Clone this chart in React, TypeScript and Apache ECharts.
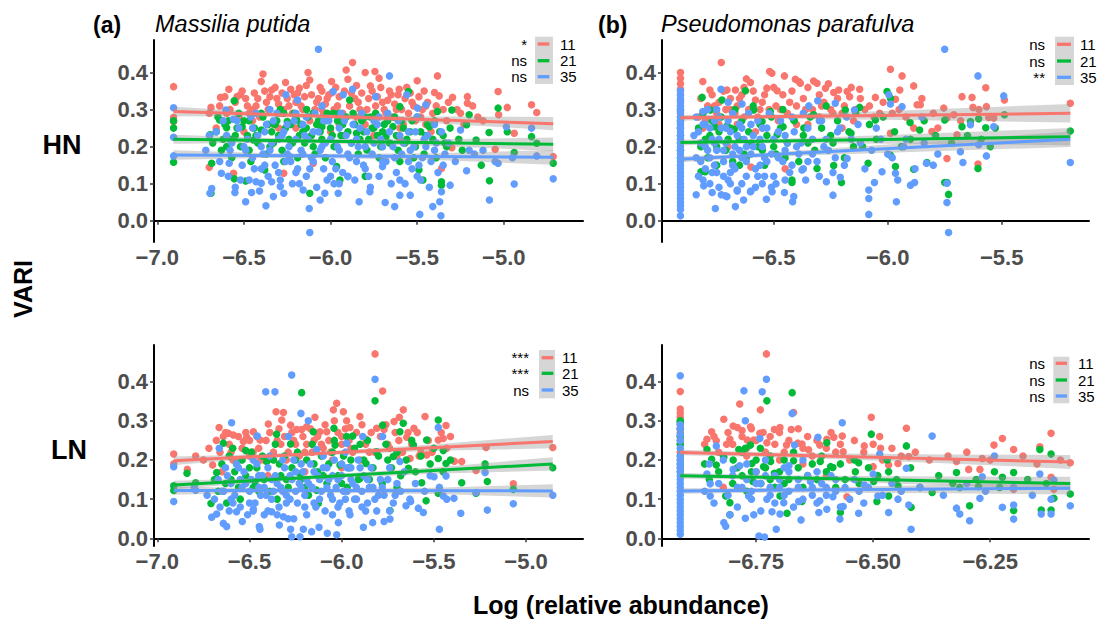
import React, { useEffect, useRef } from "react";
import * as echarts from "echarts";

// ---------- categories / labels ----------
const groups = ["11", "21", "35"];
const groupColors = ["#F8766D", "#00BA38", "#619CFF"];
const sigAHN = ["*", "ns", "ns"];
const sigBHN = ["ns", "ns", "**"];
const sigALN = ["***", "***", "ns"];
const sigBLN = ["ns", "ns", "ns"];
const ticksA = [-7.0, -6.5, -6.0, -5.5, -5.0];
const ticksBHN = [-6.5, -6.0, -5.5];
const ticksBLN = [-6.75, -6.5, -6.25];
const ticksY = [0, 0.1, 0.2, 0.3, 0.4];

// ---------- (a) Massilia putida, HN ----------
const aHN_11 = [[-6.906,0.362],[-6.906,0.279],[-6.906,0.268],[-6.69,0.306],[-6.70,0.144],[-6.635,0.333],[-6.587,0.355],[-6.54,0.335],[-6.52,0.34],[-6.56,0.128],[-6.60,0.29],[-6.48,0.31],[-6.45,0.3],[-6.42,0.33],[-6.39,0.396],[-6.40,0.376],[-6.37,0.32],[-6.34,0.353],[-6.31,0.33],[-6.29,0.29],[-6.26,0.373],[-6.24,0.31],[-6.21,0.34],[-6.18,0.358],[-6.16,0.3],[-6.13,0.40],[-6.12,0.38],[-6.10,0.155],[-6.08,0.32],[-6.06,0.36],[-6.04,0.29],[-6.02,0.33],[-5.994,0.376],[-5.99,0.346],[-5.96,0.31],[-5.94,0.27],[-5.91,0.407],[-5.873,0.427],[-5.90,0.382],[-5.86,0.33],[-5.83,0.3],[-5.80,0.40],[-5.77,0.364],[-5.744,0.403],[-5.72,0.385],[-5.70,0.32],[-5.68,0.29],[-5.65,0.34],[-5.62,0.3],[-5.604,0.355],[-5.58,0.26],[-5.56,0.36],[-5.53,0.32],[-5.50,0.378],[-5.48,0.28],[-5.45,0.31],[-5.42,0.24],[-5.40,0.346],[-5.383,0.391],[-5.373,0.337],[-5.36,0.141],[-5.33,0.27],[-5.30,0.197],[-5.296,0.333],[-5.25,0.29],[-5.21,0.335],[-5.21,0.317],[-5.15,0.28],[-5.05,0.193],[-5.033,0.349],[-5.03,0.286],[-4.98,0.306],[-4.94,0.236],[-4.84,0.313],[-4.81,0.292],[-4.715,0.173],[-6.27,0.128],[-6.5,0.24],[-6.33,0.26],[-6.2,0.25],[-6.0,0.24],[-5.75,0.23],[-5.6,0.22],[-6.62,0.27],[-6.05,0.3],[-5.85,0.28],
  [-6.64,0.31],[-6.61,0.335],[-6.58,0.30],[-6.55,0.32],[-6.53,0.28],[-6.51,0.35],[-6.49,0.33],[-6.47,0.29],[-6.44,0.345],[-6.43,0.31],[-6.41,0.28],[-6.38,0.35],[-6.36,0.30],[-6.35,0.335],[-6.32,0.36],[-6.30,0.315],[-6.28,0.345],[-6.27,0.30],[-6.25,0.33],[-6.23,0.355],[-6.22,0.29],[-6.20,0.32],[-6.19,0.345],[-6.17,0.31],[-6.15,0.335],[-6.14,0.365],[-6.11,0.34],[-6.09,0.30],[-6.07,0.33],[-6.05,0.35],[-6.03,0.315],[-6.01,0.34],[-5.98,0.30],[-5.97,0.36],[-5.95,0.335],[-5.93,0.29],[-5.92,0.35],[-5.89,0.31],[-5.88,0.345],[-5.85,0.365],[-5.84,0.32],[-5.82,0.345],[-5.79,0.30],[-5.78,0.33],[-5.76,0.35],[-5.74,0.31],[-5.73,0.335],[-5.71,0.36],[-5.69,0.30],[-5.67,0.325],[-5.66,0.35],[-5.64,0.28],[-5.63,0.315],[-5.61,0.34],[-5.59,0.30],[-5.57,0.33],[-5.55,0.29],[-5.54,0.345],[-5.52,0.31],[-5.51,0.27],[-5.49,0.335],[-5.47,0.30],[-5.46,0.35],[-5.44,0.32],[-5.41,0.29],[-5.39,0.31],[-5.35,0.30],[-5.32,0.32],[-5.27,0.30],[-5.23,0.26],[-5.18,0.31],[-5.12,0.27],[-6.7,0.29],[-6.66,0.25],[-6.45,0.27],[-6.3,0.25],[-6.12,0.27],[-5.95,0.26],[-5.8,0.26],[-5.6,0.25],[-5.45,0.26]];
const aHN_21 = [[-6.906,0.27],[-6.906,0.25],[-6.906,0.158],[-6.696,0.232],[-6.69,0.074],[-6.686,0.155],[-6.64,0.272],[-6.60,0.251],[-6.556,0.324],[-6.51,0.254],[-6.556,0.113],[-6.49,0.107],[-6.446,0.218],[-6.40,0.245],[-6.38,0.137],[-6.35,0.2],[-6.32,0.26],[-6.29,0.30],[-6.25,0.268],[-6.22,0.21],[-6.196,0.272],[-6.16,0.24],[-6.138,0.30],[-6.12,0.074],[-6.10,0.2],[-6.08,0.26],[-6.05,0.254],[-6.013,0.272],[-5.985,0.29],[-5.965,0.146],[-5.946,0.11],[-5.92,0.23],[-5.89,0.326],[-5.85,0.236],[-5.82,0.27],[-5.79,0.191],[-5.75,0.25],[-5.71,0.2],[-5.68,0.227],[-5.64,0.254],[-5.60,0.308],[-5.57,0.21],[-5.55,0.349],[-5.52,0.17],[-5.49,0.137],[-5.467,0.11],[-5.43,0.254],[-5.383,0.295],[-5.36,0.105],[-5.36,0.096],[-5.33,0.2],[-5.30,0.299],[-5.215,0.259],[-5.20,0.286],[-5.16,0.218],[-5.13,0.15],[-5.085,0.238],[-5.083,0.108],[-5.033,0.304],[-4.98,0.24],[-4.94,0.184],[-4.84,0.227],[-4.81,0.209],[-4.715,0.155],[-6.47,0.19],[-6.27,0.16],[-6.03,0.17],[-5.8,0.12],[-5.6,0.16],[-6.2,0.28],[-6.6,0.2],
  [-6.68,0.21],[-6.66,0.24],[-6.63,0.19],[-6.61,0.26],[-6.58,0.22],[-6.57,0.17],[-6.54,0.25],[-6.52,0.20],[-6.50,0.27],[-6.48,0.23],[-6.46,0.16],[-6.44,0.25],[-6.42,0.21],[-6.39,0.28],[-6.37,0.18],[-6.34,0.24],[-6.33,0.21],[-6.31,0.27],[-6.28,0.19],[-6.26,0.25],[-6.24,0.22],[-6.21,0.29],[-6.19,0.17],[-6.17,0.26],[-6.15,0.21],[-6.13,0.28],[-6.11,0.23],[-6.09,0.18],[-6.07,0.27],[-6.05,0.22],[-6.02,0.29],[-6.00,0.25],[-5.98,0.20],[-5.96,0.27],[-5.94,0.23],[-5.91,0.28],[-5.88,0.21],[-5.86,0.26],[-5.84,0.18],[-5.81,0.24],[-5.78,0.22],[-5.77,0.28],[-5.73,0.23],[-5.72,0.17],[-5.69,0.26],[-5.66,0.21],[-5.63,0.28],[-5.61,0.19],[-5.58,0.25],[-5.56,0.22],[-5.53,0.27],[-5.51,0.20],[-5.48,0.24],[-5.46,0.18],[-5.44,0.26],[-5.41,0.22],[-5.39,0.17],[-5.37,0.24],[-5.34,0.21],[-5.31,0.25],[-5.26,0.22],[-5.24,0.19],
  [-6.65,0.28],[-6.62,0.22],[-6.59,0.27],[-6.55,0.23],[-6.53,0.29],[-6.47,0.27],[-6.43,0.23],[-6.4,0.29],[-6.36,0.26],[-6.3,0.23],[-6.27,0.29],[-6.23,0.26],[-6.18,0.23],[-6.14,0.25],[-6.1,0.29],[-6.06,0.24],[-6.03,0.27],[-5.99,0.23],[-5.95,0.29],[-5.93,0.26],[-5.9,0.24],[-5.87,0.29],[-5.83,0.22],[-5.8,0.28],[-5.76,0.25],[-5.74,0.29],[-5.7,0.24],[-5.67,0.27],[-5.62,0.23],[-5.59,0.27],[-5.54,0.24],[-5.5,0.28],[-5.45,0.23],[-5.4,0.27],[-5.35,0.23]];
const aHN_35 = [[-6.906,0.305],[-6.906,0.225],[-6.906,0.175],[-6.696,0.074],[-6.686,0.087],[-6.63,0.128],[-6.585,0.155],[-6.552,0.076],[-6.604,0.299],[-6.56,0.274],[-6.49,0.051],[-6.456,0.076],[-6.43,0.105],[-6.40,0.101],[-6.373,0.04],[-6.34,0.105],[-6.33,0.065],[-6.29,0.092],[-6.27,0.074],[-6.258,0.34],[-6.235,0.173],[-6.19,0.326],[-6.158,0.083],[-6.123,0.033],[-6.12,-0.032],[-6.07,0.463],[-6.06,0.056],[-6.033,0.074],[-5.985,0.349],[-5.956,0.074],[-5.927,0.34],[-5.90,0.119],[-5.873,0.355],[-5.835,0.051],[-5.773,0.078],[-5.74,0.335],[-5.70,0.146],[-5.685,0.049],[-5.66,0.391],[-5.63,0.038],[-5.60,0.069],[-5.56,0.34],[-5.54,0.069],[-5.498,0.304],[-5.485,0.017],[-5.45,0.313],[-5.41,0.038],[-5.37,0.051],[-5.363,0.013],[-5.36,0.078],[-5.31,0.096],[-5.25,0.245],[-5.215,0.135],[-5.083,0.056],[-5.033,0.155],[-4.985,0.254],[-4.94,0.099],[-4.84,0.25],[-4.715,0.113],[-4.81,0.175],[-6.5,0.2],[-6.45,0.25],[-6.38,0.15],[-6.3,0.22],[-6.25,0.18],[-6.2,0.13],[-6.15,0.23],[-6.1,0.16],[-6.05,0.2],[-6.0,0.12],[-5.95,0.25],[-5.9,0.18],[-5.85,0.22],[-5.8,0.14],[-5.75,0.27],[-5.7,0.2],[-5.65,0.1],[-5.6,0.23],[-5.55,0.16],[-5.5,0.12],[-5.45,0.2],[-5.4,0.26],[-6.35,0.3],[-6.2,0.29],[-6.05,0.31],[-5.95,0.1],[-6.4,0.2],[-6.6,0.23],
  [-6.66,0.24],[-6.64,0.16],[-6.62,0.27],[-6.59,0.12],[-6.57,0.21],[-6.55,0.09],[-6.53,0.25],[-6.51,0.15],[-6.49,0.19],[-6.47,0.11],[-6.46,0.28],[-6.44,0.14],[-6.42,0.23],[-6.41,0.08],[-6.39,0.18],[-6.37,0.26],[-6.36,0.12],[-6.34,0.21],[-6.32,0.15],[-6.31,0.29],[-6.29,0.11],[-6.27,0.24],[-6.26,0.16],[-6.24,0.2],[-6.22,0.1],[-6.21,0.27],[-6.19,0.14],[-6.17,0.19],[-6.16,0.26],[-6.14,0.12],[-6.13,0.22],[-6.11,0.17],[-6.09,0.29],[-6.08,0.09],[-6.07,0.24],[-6.04,0.14],[-6.03,0.21],[-6.01,0.27],[-5.99,0.16],[-5.98,0.1],[-5.96,0.2],[-5.94,0.29],[-5.93,0.13],[-5.91,0.23],[-5.89,0.17],[-5.87,0.26],[-5.86,0.11],[-5.84,0.2],[-5.82,0.29],[-5.81,0.15],[-5.79,0.24],[-5.77,0.09],[-5.76,0.18],[-5.73,0.26],[-5.72,0.12],[-5.71,0.22],[-5.68,0.16],[-5.67,0.29],[-5.64,0.2],[-5.62,0.13],[-5.61,0.27],[-5.59,0.18],[-5.57,0.1],[-5.55,0.24],[-5.53,0.14],[-5.52,0.2],[-5.5,0.28],[-5.48,0.11],[-5.47,0.17],[-5.44,0.23],[-5.43,0.09],[-5.4,0.19],[-5.38,0.13],[-5.36,0.24],[-5.34,0.18],[-5.32,0.21],[-5.28,0.16],[-5.2,0.19],[-5.17,0.18],[-5.12,0.19],[-5.05,0.16],[-4.95,0.17],[-6.7,0.23],[-6.72,0.19],
  [-6.58,0.19],[-6.54,0.27],[-6.52,0.11],[-6.48,0.22],[-6.45,0.17],[-6.43,0.29],[-6.4,0.14],[-6.38,0.24],[-6.35,0.19],[-6.33,0.27],[-6.3,0.13],[-6.28,0.23],[-6.25,0.26],[-6.23,0.16],[-6.2,0.22],[-6.18,0.1],[-6.16,0.18],[-6.14,0.28],[-6.12,0.14],[-6.1,0.24],[-6.06,0.19],[-6.04,0.27],[-6.02,0.11],[-6.0,0.22],[-5.97,0.14],[-5.95,0.19],[-5.92,0.27],[-5.9,0.12],[-5.88,0.21],[-5.85,0.16],[-5.83,0.25],[-5.8,0.2],[-5.78,0.12],[-5.75,0.21],[-5.72,0.28],[-5.7,0.16],[-5.66,0.24],[-5.63,0.17],[-5.6,0.11],[-5.58,0.21],[-5.54,0.19],[-5.51,0.24],[-5.49,0.15],[-5.46,0.22],[-5.42,0.16],[-5.39,0.21],[-5.35,0.15]];

// ---------- (b) Pseudomonas parafulva, HN ----------
const bHN_colX = -6.909;
const bHN_11_col = [0.40,0.385,0.37,0.355,0.34,0.325,0.31,0.295,0.28,0.265,0.25];
const bHN_21_col = [0.30,0.27,0.25,0.23,0.21,0.19,0.17];
const bHN_35_col = [0.35,0.34,0.33,0.32,0.31,0.30,0.29,0.28,0.27,0.26,0.25,0.24,0.23,0.22,0.21,0.20,0.19,0.18,0.17,0.16,0.15,0.14,0.13,0.12,0.11,0.10,0.09,0.08,0.07,0.06,0.05,0.04,0.03,0.013];
const bHN_11 = [[-6.811,0.376],[-6.78,0.353],[-6.80,0.27],[-6.76,0.31],[-6.73,0.427],[-6.705,0.353],[-6.69,0.3],[-6.668,0.353],[-6.65,0.33],[-6.63,0.28],[-6.62,0.383],[-6.602,0.373],[-6.58,0.326],[-6.56,0.3],[-6.53,0.358],[-6.518,0.403],[-6.508,0.398],[-6.485,0.351],[-6.47,0.3],[-6.453,0.391],[-6.43,0.32],[-6.405,0.382],[-6.39,0.376],[-6.383,0.371],[-6.36,0.3],[-6.325,0.377],[-6.31,0.371],[-6.29,0.31],[-6.273,0.358],[-6.25,0.3],[-6.237,0.346],[-6.215,0.353],[-6.2,0.29],[-6.178,0.349],[-6.167,0.335],[-6.123,0.355],[-6.1,0.3],[-6.054,0.333],[-6.035,0.29],[-5.988,0.409],[-5.966,0.328],[-5.947,0.353],[-5.937,0.391],[-5.886,0.364],[-5.871,0.313],[-5.857,0.313],[-5.886,0.25],[-5.806,0.241],[-5.754,0.304],[-5.74,0.277],[-5.71,0.286],[-5.674,0.335],[-5.63,0.333],[-5.626,0.306],[-5.57,0.359],[-5.567,0.308],[-5.557,0.279],[-5.535,0.277],[-5.488,0.326],[-5.604,0.153],[-5.74,0.168],[-5.199,0.317],[-5.696,0.232],[-5.988,0.236],[-6.6,0.145],[-6.45,0.14],[-6.7,0.2],[-6.55,0.25],[-6.35,0.26],[-6.15,0.27],
  [-6.82,0.33],[-6.79,0.31],[-6.77,0.34],[-6.75,0.29],[-6.74,0.32],[-6.72,0.35],[-6.71,0.30],[-6.69,0.33],[-6.67,0.29],[-6.66,0.31],[-6.64,0.34],[-6.63,0.36],[-6.61,0.30],[-6.59,0.35],[-6.57,0.28],[-6.55,0.32],[-6.54,0.34],[-6.52,0.30],[-6.50,0.36],[-6.49,0.31],[-6.46,0.34],[-6.44,0.29],[-6.42,0.35],[-6.40,0.31],[-6.37,0.33],[-6.35,0.36],[-6.33,0.30],[-6.30,0.34],[-6.28,0.32],[-6.26,0.37],[-6.24,0.29],[-6.22,0.33],[-6.19,0.31],[-6.16,0.36],[-6.14,0.30],[-6.12,0.33],[-6.08,0.31],[-6.06,0.28],[-6.02,0.32],[-5.98,0.29],[-5.95,0.30],[-5.92,0.28],[-5.85,0.33],[-5.8,0.29],[-5.78,0.25],[-5.68,0.27],[-5.6,0.3],[-6.83,0.28],[-6.81,0.25],[-6.74,0.26],[-6.66,0.26],[-6.58,0.24],[-6.48,0.27],[-6.4,0.26],[-6.3,0.28],[-6.2,0.25]];
const bHN_21 = [[-6.814,0.333],[-6.819,0.132],[-6.80,0.132],[-6.778,0.299],[-6.76,0.254],[-6.727,0.326],[-6.705,0.256],[-6.673,0.247],[-6.624,0.351],[-6.63,0.18],[-6.588,0.299],[-6.551,0.268],[-6.515,0.295],[-6.485,0.232],[-6.459,0.254],[-6.412,0.272],[-6.42,0.11],[-6.42,0.103],[-6.368,0.25],[-6.325,0.286],[-6.31,0.141],[-6.237,0.149],[-6.203,0.103],[-6.186,0.299],[-6.161,0.236],[-6.123,0.306],[-6.086,0.155],[-6.054,0.272],[-6.003,0.349],[-5.988,0.331],[-5.988,0.177],[-5.966,0.146],[-5.902,0.265],[-5.886,0.139],[-5.86,0.245],[-5.828,0.157],[-5.75,0.272],[-5.75,0.103],[-5.74,0.103],[-5.733,0.071],[-5.674,0.254],[-5.637,0.268],[-5.601,0.275],[-5.604,0.141],[-5.57,0.251],[-5.528,0.25],[-5.488,0.286],[-5.199,0.242],[-6.75,0.2],[-6.7,0.22],[-6.6,0.21],[-6.55,0.19],[-6.5,0.2],[-6.45,0.17],[-6.35,0.21],[-6.25,0.23],[-6.15,0.2],[-6.65,0.15],[-6.8,0.22],
  [-6.83,0.25],[-6.82,0.2],[-6.81,0.29],[-6.79,0.17],[-6.78,0.23],[-6.77,0.27],[-6.75,0.15],[-6.74,0.24],[-6.73,0.28],[-6.71,0.19],[-6.69,0.25],[-6.68,0.16],[-6.67,0.3],[-6.65,0.22],[-6.64,0.27],[-6.62,0.17],[-6.61,0.24],[-6.59,0.31],[-6.57,0.2],[-6.56,0.26],[-6.54,0.15],[-6.53,0.23],[-6.51,0.28],[-6.49,0.18],[-6.47,0.25],[-6.46,0.3],[-6.44,0.21],[-6.41,0.27],[-6.39,0.16],[-6.37,0.23],[-6.34,0.28],[-6.32,0.19],[-6.29,0.25],[-6.27,0.31],[-6.24,0.21],[-6.22,0.27],[-6.19,0.17],[-6.17,0.24],[-6.14,0.29],[-6.11,0.2],[-6.08,0.26],[-6.05,0.22],[-6.02,0.28],[-5.97,0.24],[-5.94,0.2],[-5.9,0.22],[-5.84,0.27],[-5.79,0.23],[-5.72,0.21],[-5.65,0.23],[-5.59,0.22],[-5.55,0.2]];
const bHN_35 = [[-6.811,0.295],[-6.807,0.094],[-6.77,0.076],[-6.756,0.033],[-6.731,0.355],[-6.712,0.067],[-6.705,0.065],[-6.668,0.038],[-6.66,0.083],[-6.639,0.315],[-6.632,0.056],[-6.602,0.078],[-6.532,0.058],[-6.507,0.078],[-6.453,0.076],[-6.417,0.051],[-6.412,0.065],[-6.376,0.137],[-6.346,0.31],[-6.307,0.324],[-6.269,0.105],[-6.24,0.069],[-6.23,0.317],[-6.208,0.117],[-6.178,0.168],[-6.146,0.299],[-6.083,0.083],[-6.083,0.06],[-6.083,0.017],[-6.058,0.103],[-6.025,0.132],[-5.995,0.34],[-5.988,0.315],[-5.966,0.128],[-5.962,0.051],[-5.937,0.308],[-5.956,0.11],[-5.9,0.096],[-5.882,0.103],[-5.83,0.155],[-5.8,0.15],[-5.75,0.463],[-5.74,0.049],[-5.733,-0.032],[-5.74,0.101],[-5.681,0.186],[-5.67,0.157],[-5.637,0.259],[-5.604,0.391],[-5.601,0.205],[-5.567,0.175],[-5.535,0.254],[-5.491,0.337],[-5.199,0.157],[-6.8,0.2],[-6.78,0.25],[-6.76,0.15],[-6.74,0.22],[-6.72,0.12],[-6.7,0.27],[-6.68,0.18],[-6.66,0.23],[-6.64,0.1],[-6.62,0.2],[-6.6,0.26],[-6.58,0.14],[-6.56,0.22],[-6.54,0.17],[-6.52,0.29],[-6.5,0.12],[-6.48,0.24],[-6.45,0.19],[-6.42,0.28],[-6.38,0.21],[-6.35,0.16],[-6.3,0.27],[-6.28,0.2],[-6.22,0.24],[-6.18,0.28],[-6.12,0.21],[-6.05,0.25],[-6.0,0.18],[-5.92,0.22],[-5.85,0.28],[-6.75,0.3],[-6.69,0.13],[-6.55,0.1],[-6.45,0.11],[-6.35,0.25],
  [-6.85,0.23],[-6.84,0.17],[-6.84,0.28],[-6.83,0.12],[-6.82,0.21],[-6.81,0.26],[-6.8,0.14],[-6.79,0.19],[-6.79,0.3],[-6.78,0.1],[-6.77,0.22],[-6.76,0.27],[-6.75,0.13],[-6.75,0.19],[-6.74,0.09],[-6.73,0.25],[-6.72,0.16],[-6.71,0.21],[-6.7,0.11],[-6.7,0.32],[-6.69,0.24],[-6.68,0.15],[-6.67,0.2],[-6.66,0.08],[-6.65,0.26],[-6.64,0.17],[-6.63,0.22],[-6.62,0.12],[-6.61,0.29],[-6.6,0.18],[-6.59,0.23],[-6.58,0.09],[-6.57,0.27],[-6.56,0.15],[-6.55,0.2],[-6.54,0.12],[-6.53,0.25],[-6.51,0.18],[-6.5,0.22],[-6.49,0.1],[-6.47,0.27],[-6.46,0.16],[-6.44,0.21],[-6.43,0.13],[-6.41,0.24],[-6.39,0.18],[-6.37,0.29],[-6.36,0.11],[-6.33,0.22],[-6.31,0.16],[-6.29,0.27],[-6.26,0.19],[-6.24,0.13],[-6.21,0.25],[-6.19,0.15],[-6.16,0.22],[-6.13,0.26],[-6.1,0.14],[-6.07,0.19],[-6.03,0.22],[-5.98,0.17],[-5.93,0.2],[-5.88,0.14],[-5.84,0.21],[-5.78,0.18],
  [-6.84,0.07],[-6.83,0.24],[-6.82,0.16],[-6.81,0.11],[-6.8,0.26],[-6.78,0.17],[-6.77,0.13],[-6.76,0.21],[-6.74,0.28],[-6.73,0.07],[-6.72,0.19],[-6.71,0.25],[-6.69,0.1],[-6.68,0.29],[-6.67,0.14],[-6.65,0.19],[-6.64,0.25],[-6.62,0.16],[-6.6,0.08],[-6.59,0.2],[-6.57,0.12],[-6.55,0.25],[-6.53,0.16],[-6.51,0.09],[-6.48,0.17],[-6.45,0.23],[-6.42,0.15],[-6.4,0.2],[-6.37,0.14],[-6.33,0.18],[-6.3,0.12],[-6.27,0.22],[-6.23,0.17]];

// ---------- (a) Massilia putida, LN ----------
const aLN_11 = [[-6.911,0.215],[-6.911,0.19],[-6.837,0.176],[-6.792,0.21],[-6.70,0.187],[-6.665,0.283],[-6.642,0.26],[-6.615,0.268],[-6.588,0.264],[-6.57,0.2],[-6.533,0.247],[-6.515,0.258],[-6.479,0.272],[-6.443,0.251],[-6.42,0.2],[-6.398,0.292],[-6.356,0.323],[-6.316,0.321],[-6.325,0.302],[-6.277,0.289],[-6.244,0.278],[-6.217,0.278],[-6.19,0.285],[-6.145,0.309],[-6.118,0.272],[-6.081,0.272],[-6.045,0.328],[-6.027,0.345],[-5.991,0.323],[-5.973,0.30],[-5.955,0.283],[-5.901,0.311],[-5.868,0.253],[-5.819,0.471],[-5.81,0.281],[-5.778,0.376],[-5.77,0.278],[-5.716,0.298],[-5.687,0.309],[-5.666,0.328],[-5.647,0.258],[-5.608,0.281],[-5.548,0.311],[-5.539,0.213],[-5.476,0.251],[-5.449,0.255],[-5.434,0.288],[-5.389,0.197],[-5.349,0.196],[-5.271,0.173],[-5.217,0.232],[-5.069,0.139],[-5.629,0.204],[-5.58,0.21],[-4.855,0.232],[-6.6,0.22],[-6.5,0.21],[-6.45,0.23],[-6.35,0.25],[-6.3,0.2],[-6.25,0.24],[-6.2,0.22],[-6.15,0.25],[-6.1,0.23],[-6.05,0.2],[-6.0,0.26],[-5.95,0.23],[-5.9,0.2],[-5.85,0.22],[-5.75,0.24],[-5.7,0.21],[-6.65,0.17],[-6.4,0.16],[-6.2,0.17],[-6.0,0.18],
  [-6.68,0.25],[-6.66,0.22],[-6.63,0.27],[-6.61,0.24],[-6.59,0.2],[-6.56,0.26],[-6.54,0.23],[-6.52,0.27],[-6.5,0.25],[-6.48,0.22],[-6.46,0.26],[-6.44,0.2],[-6.41,0.25],[-6.39,0.27],[-6.37,0.22],[-6.34,0.28],[-6.33,0.24],[-6.31,0.26],[-6.29,0.22],[-6.27,0.27],[-6.26,0.25],[-6.23,0.21],[-6.21,0.26],[-6.19,0.24],[-6.17,0.28],[-6.16,0.22],[-6.13,0.26],[-6.11,0.24],[-6.09,0.29],[-6.07,0.25],[-6.06,0.22],[-6.04,0.3],[-6.02,0.27],[-6.0,0.24],[-5.98,0.28],[-5.96,0.25],[-5.94,0.22],[-5.92,0.27],[-5.89,0.29],[-5.87,0.24],[-5.84,0.27],[-5.82,0.22],[-5.79,0.26],[-5.76,0.29],[-5.74,0.23],[-5.71,0.27],[-5.69,0.25],[-5.67,0.22],[-5.64,0.27],[-5.62,0.24],[-5.59,0.27],[-5.57,0.22],[-5.53,0.25],[-5.51,0.22],[-5.46,0.27],[-5.43,0.23],[-5.41,0.26],[-6.75,0.2],[-6.72,0.23]];
const aLN_21 = [[-6.911,0.134],[-6.911,0.122],[-6.839,0.166],[-6.792,0.142],[-6.709,0.089],[-6.678,0.168],[-6.642,0.243],[-6.624,0.09],[-6.591,0.23],[-6.57,0.19],[-6.521,0.224],[-6.47,0.145],[-6.407,0.196],[-6.353,0.266],[-6.338,0.19],[-6.277,0.241],[-6.217,0.372],[-6.226,0.165],[-6.154,0.272],[-6.136,0.123],[-6.127,0.089],[-6.042,0.281],[-6.036,0.238],[-6.009,0.187],[-5.973,0.26],[-5.94,0.261],[-5.901,0.153],[-5.868,0.191],[-5.819,0.351],[-5.81,0.221],[-5.778,0.289],[-5.738,0.071],[-5.72,0.209],[-5.684,0.272],[-5.666,0.294],[-5.638,0.179],[-5.611,0.238],[-5.566,0.142],[-5.542,0.096],[-5.539,0.251],[-5.476,0.302],[-5.476,0.204],[-5.449,0.224],[-5.434,0.191],[-5.349,0.142],[-5.271,0.115],[-5.222,0.19],[-5.21,0.145],[-5.069,0.125],[-5.476,0.115],[-4.855,0.180],[-6.6,0.15],[-6.5,0.18],[-6.45,0.12],[-6.4,0.2],[-6.3,0.15],[-6.25,0.2],[-6.2,0.13],[-6.15,0.19],[-6.1,0.16],[-6.05,0.22],[-6.0,0.14],[-5.95,0.2],[-5.9,0.24],[-5.85,0.15],[-5.75,0.2],[-5.7,0.13],[-6.55,0.1],[-6.35,0.1],
  [-6.69,0.15],[-6.67,0.12],[-6.65,0.19],[-6.63,0.14],[-6.61,0.21],[-6.58,0.17],[-6.56,0.13],[-6.54,0.2],[-6.52,0.16],[-6.49,0.22],[-6.48,0.13],[-6.46,0.18],[-6.43,0.21],[-6.42,0.15],[-6.39,0.12],[-6.37,0.2],[-6.36,0.24],[-6.33,0.16],[-6.31,0.21],[-6.29,0.13],[-6.27,0.18],[-6.24,0.22],[-6.22,0.15],[-6.19,0.2],[-6.18,0.11],[-6.16,0.24],[-6.13,0.17],[-6.11,0.21],[-6.08,0.14],[-6.07,0.19],[-6.04,0.25],[-6.02,0.16],[-5.99,0.21],[-5.97,0.13],[-5.96,0.18],[-5.93,0.23],[-5.91,0.15],[-5.88,0.2],[-5.86,0.25],[-5.83,0.18],[-5.8,0.21],[-5.78,0.14],[-5.76,0.24],[-5.73,0.18],[-5.7,0.22],[-5.68,0.16],[-5.65,0.2],[-5.62,0.25],[-5.6,0.17],[-5.57,0.21],[-5.52,0.19],[-5.5,0.23],[-5.45,0.17],[-5.41,0.2]];
const aLN_35 = [[-6.911,0.183],[-6.911,0.094],[-6.792,0.123],[-6.705,0.054],[-6.678,0.062],[-6.664,0.23],[-6.642,0.038],[-6.624,0.03],[-6.597,0.295],[-6.57,0.068],[-6.539,0.043],[-6.479,0.074],[-6.458,0.261],[-6.447,0.03],[-6.443,0.023],[-6.412,0.374],[-6.362,0.374],[-6.38,0.068],[-6.338,0.034],[-6.316,0.055],[-6.271,0.417],[-6.277,0.023],[-6.271,0.004],[-6.289,0.26],[-6.226,0.004],[-6.221,0.319],[-6.208,0.023],[-6.181,0.30],[-6.163,0.017],[-6.136,0.227],[-6.123,0.028],[-6.078,0.013],[-6.027,0.009],[-6.018,0.04],[-5.973,0.243],[-5.955,0.06],[-5.886,0.26],[-5.882,0.028],[-5.819,0.406],[-5.832,0.04],[-5.778,0.26],[-5.77,0.043],[-5.738,0.049],[-5.684,0.196],[-5.651,0.083],[-5.626,0.094],[-5.584,0.077],[-5.557,0.066],[-5.499,0.157],[-5.476,0.283],[-5.47,0.023],[-5.449,0.108],[-5.434,0.159],[-5.391,0.102],[-5.354,0.064],[-5.222,0.168],[-5.21,0.072],[-5.069,0.088],[-5.271,0.117],[-4.855,0.11],[-6.65,0.12],[-6.6,0.1],[-6.55,0.15],[-6.5,0.09],[-6.45,0.13],[-6.4,0.18],[-6.38,0.1],[-6.35,0.14],[-6.32,0.2],[-6.3,0.09],[-6.28,0.16],[-6.25,0.12],[-6.22,0.19],[-6.2,0.08],[-6.18,0.14],[-6.15,0.17],[-6.12,0.1],[-6.1,0.21],[-6.08,0.13],[-6.05,0.16],[-6.02,0.08],[-6.0,0.19],[-5.97,0.12],[-5.95,0.15],[-5.92,0.1],[-5.9,0.18],[-5.87,0.07],[-5.85,0.13],[-5.8,0.11],[-5.75,0.15],[-6.48,0.2],[-6.26,0.05],[-6.05,0.06],[-5.98,0.22],[-6.42,0.06],
  [-6.69,0.1],[-6.67,0.15],[-6.66,0.08],[-6.64,0.12],[-6.63,0.18],[-6.61,0.07],[-6.6,0.14],[-6.58,0.11],[-6.57,0.19],[-6.55,0.08],[-6.54,0.13],[-6.53,0.17],[-6.51,0.06],[-6.5,0.12],[-6.49,0.15],[-6.47,0.09],[-6.46,0.19],[-6.44,0.11],[-6.43,0.16],[-6.42,0.13],[-6.4,0.07],[-6.39,0.21],[-6.37,0.12],[-6.36,0.16],[-6.34,0.08],[-6.33,0.13],[-6.31,0.18],[-6.3,0.11],[-6.29,0.05],[-6.27,0.15],[-6.26,0.2],[-6.24,0.09],[-6.23,0.14],[-6.21,0.17],[-6.2,0.11],[-6.19,0.06],[-6.17,0.19],[-6.16,0.13],[-6.14,0.08],[-6.13,0.16],[-6.11,0.12],[-6.1,0.18],[-6.09,0.07],[-6.07,0.15],[-6.06,0.11],[-6.04,0.2],[-6.03,0.13],[-6.01,0.09],[-6.0,0.16],[-5.99,0.12],[-5.97,0.18],[-5.96,0.07],[-5.94,0.14],[-5.93,0.1],[-5.91,0.2],[-5.89,0.12],[-5.88,0.16],[-5.86,0.09],[-5.84,0.18],[-5.83,0.13],[-5.81,0.07],[-5.79,0.15],[-5.77,0.11],[-5.74,0.18],[-5.72,0.09],[-5.7,0.14],[-5.68,0.12],[-5.66,0.17],[-5.63,0.1],[-5.6,0.14],[-5.55,0.12],[-5.52,0.16],[-5.47,0.13],[-5.43,0.1],[-6.73,0.11],[-6.8,0.13],
  [-6.62,0.16],[-6.59,0.09],[-6.56,0.18],[-6.52,0.14],[-6.48,0.07],[-6.45,0.16],[-6.41,0.11],[-6.38,0.15],[-6.35,0.06],[-6.32,0.12],[-6.28,0.1],[-6.25,0.17],[-6.22,0.13],[-6.19,0.15],[-6.15,0.09],[-6.12,0.15],[-6.08,0.18],[-6.05,0.1],[-6.02,0.15],[-5.98,0.1],[-5.95,0.18],[-5.92,0.13],[-5.89,0.08],[-5.86,0.15],[-5.82,0.1],[-5.78,0.13],[-5.74,0.07],[-5.71,0.11]];

// ---------- (b) Pseudomonas parafulva, LN ----------
const bLN_colX = -6.912;
const bLN_11_col = [0.375,0.33,0.32,0.31,0.30,0.29,0.28,0.27,0.26,0.25,0.24,0.22,0.20,0.18];
const bLN_21_col = [0.30,0.295,0.28,0.26,0.24,0.21,0.19,0.17];
const bLN_35_col = [0.415,0.29,0.28,0.265,0.25,0.23,0.21,0.20,0.19,0.18,0.17,0.16,0.15,0.14,0.13,0.12,0.11,0.10,0.09,0.08,0.07,0.06,0.05,0.04,0.03,0.02,0.01];
const bLN_11 = [[-6.855,0.253],[-6.845,0.272],[-6.835,0.249],[-6.819,0.304],[-6.813,0.24],[-6.806,0.253],[-6.799,0.287],[-6.79,0.283],[-6.785,0.343],[-6.78,0.275],[-6.769,0.251],[-6.762,0.285],[-6.755,0.251],[-6.741,0.328],[-6.742,0.268],[-6.735,0.27],[-6.728,0.471],[-6.727,0.244],[-6.711,0.278],[-6.699,0.283],[-6.685,0.238],[-6.675,0.278],[-6.67,0.321],[-6.661,0.243],[-6.652,0.241],[-6.638,0.226],[-6.614,0.238],[-6.599,0.253],[-6.584,0.258],[-6.566,0.261],[-6.564,0.221],[-6.556,0.106],[-6.519,0.236],[-6.504,0.309],[-6.5,0.183],[-6.486,0.26],[-6.484,0.23],[-6.467,0.187],[-6.447,0.191],[-6.429,0.281],[-6.424,0.209],[-6.322,0.196],[-6.296,0.176],[-6.272,0.176],[-6.267,0.204],[-6.242,0.238],[-6.224,0.255],[-6.2,0.227],[-6.2,0.125],[-6.144,0.234],[-6.12,0.268],[-6.12,0.156],[-6.114,0.125],[-6.079,0.193],[-6.82,0.13],[-6.7,0.2],[-6.77,0.21],[-6.65,0.19],[-6.6,0.16],[-6.75,0.17],
  [-6.86,0.24],[-6.84,0.26],[-6.83,0.22],[-6.81,0.27],[-6.8,0.24],[-6.78,0.26],[-6.77,0.23],[-6.76,0.28],[-6.75,0.25],[-6.73,0.22],[-6.72,0.26],[-6.71,0.24],[-6.7,0.27],[-6.69,0.22],[-6.68,0.25],[-6.66,0.28],[-6.65,0.23],[-6.64,0.26],[-6.63,0.21],[-6.62,0.25],[-6.6,0.23],[-6.59,0.27],[-6.58,0.22],[-6.57,0.24],[-6.55,0.2],[-6.54,0.25],[-6.52,0.22],[-6.5,0.24],[-6.48,0.2],[-6.46,0.23],[-6.44,0.21],[-6.41,0.22],[-6.38,0.2],[-6.34,0.21],[-6.3,0.22],[-6.25,0.2],[-6.18,0.21],[-6.15,0.19],[-6.1,0.2]];
const bLN_21 = [[-6.855,0.227],[-6.845,0.202],[-6.835,0.187],[-6.819,0.207],[-6.815,0.108],[-6.806,0.091],[-6.806,0.06],[-6.799,0.20],[-6.787,0.227],[-6.773,0.23],[-6.762,0.238],[-6.759,0.191],[-6.757,0.145],[-6.741,0.23],[-6.734,0.183],[-6.727,0.351],[-6.719,0.196],[-6.711,0.166],[-6.699,0.108],[-6.684,0.064],[-6.673,0.372],[-6.67,0.198],[-6.652,0.094],[-6.613,0.196],[-6.599,0.244],[-6.591,0.183],[-6.586,0.181],[-6.57,0.066],[-6.538,0.17],[-6.531,0.193],[-6.504,0.266],[-6.499,0.145],[-6.492,0.094],[-6.467,0.108],[-6.467,0.17],[-6.447,0.134],[-6.429,0.236],[-6.419,0.079],[-6.374,0.117],[-6.322,0.168],[-6.315,0.13],[-6.294,0.083],[-6.275,0.132],[-6.241,0.17],[-6.224,0.156],[-6.2,0.168],[-6.2,0.071],[-6.144,0.227],[-6.141,0.072],[-6.12,0.215],[-6.12,0.072],[-6.114,0.102],[-6.079,0.113],[-6.78,0.16],[-6.72,0.15],[-6.69,0.14],[-6.64,0.16],
  [-6.86,0.19],[-6.85,0.15],[-6.83,0.17],[-6.82,0.21],[-6.8,0.14],[-6.79,0.18],[-6.78,0.22],[-6.77,0.12],[-6.76,0.17],[-6.75,0.2],[-6.74,0.14],[-6.73,0.18],[-6.72,0.21],[-6.71,0.13],[-6.7,0.17],[-6.69,0.2],[-6.68,0.15],[-6.67,0.22],[-6.66,0.18],[-6.65,0.13],[-6.63,0.19],[-6.62,0.15],[-6.61,0.21],[-6.6,0.17],[-6.58,0.13],[-6.57,0.19],[-6.56,0.15],[-6.54,0.2],[-6.53,0.14],[-6.51,0.18],[-6.49,0.16],[-6.47,0.2],[-6.45,0.15],[-6.42,0.18],[-6.4,0.13],[-6.36,0.16],[-6.33,0.14],[-6.28,0.15],[-6.23,0.13],[-6.17,0.15],[-6.13,0.14]];
const bLN_35 = [[-6.855,0.164],[-6.848,0.139],[-6.848,0.108],[-6.835,0.236],[-6.819,0.04],[-6.815,0.031],[-6.806,0.06],[-6.799,0.176],[-6.785,0.185],[-6.776,0.377],[-6.773,0.30],[-6.773,0.051],[-6.766,0.108],[-6.755,0.06],[-6.744,0.006],[-6.742,0.255],[-6.737,0.374],[-6.732,0.003],[-6.728,0.406],[-6.727,0.10],[-6.716,0.068],[-6.707,0.023],[-6.699,0.062],[-6.691,0.091],[-6.68,0.185],[-6.673,0.319],[-6.668,0.238],[-6.659,0.094],[-6.654,0.047],[-6.634,0.145],[-6.618,0.258],[-6.616,0.066],[-6.614,0.096],[-6.599,0.074],[-6.586,0.106],[-6.571,0.049],[-6.566,0.295],[-6.564,0.081],[-6.531,0.064],[-6.519,0.136],[-6.5,0.164],[-6.49,0.108],[-6.486,0.215],[-6.467,0.066],[-6.447,0.10],[-6.429,0.179],[-6.424,0.085],[-6.419,0.023],[-6.374,0.261],[-6.322,0.077],[-6.315,0.062],[-6.294,0.045],[-6.272,0.102],[-6.267,0.157],[-6.241,0.21],[-6.224,0.079],[-6.2,0.085],[-6.2,0.049],[-6.144,0.164],[-6.141,0.062],[-6.12,0.062],[-6.12,0.10],[-6.114,0.149],[-6.079,0.083],[-6.79,0.13],[-6.77,0.15],[-6.76,0.12],[-6.75,0.17],[-6.74,0.14],[-6.73,0.2],[-6.72,0.11],[-6.71,0.16],[-6.7,0.13],[-6.69,0.18],[-6.68,0.12],[-6.66,0.15],[-6.65,0.2],[-6.63,0.11],[-6.62,0.17],[-6.6,0.13],[-6.58,0.15],
  [-6.86,0.12],[-6.85,0.19],[-6.84,0.09],[-6.83,0.14],[-6.82,0.2],[-6.81,0.11],[-6.8,0.16],[-6.79,0.08],[-6.78,0.13],[-6.77,0.19],[-6.76,0.1],[-6.75,0.14],[-6.74,0.07],[-6.73,0.16],[-6.72,0.13],[-6.71,0.09],[-6.7,0.15],[-6.69,0.11],[-6.68,0.17],[-6.67,0.08],[-6.66,0.13],[-6.65,0.1],[-6.64,0.16],[-6.63,0.13],[-6.62,0.09],[-6.61,0.14],[-6.6,0.11],[-6.59,0.16],[-6.58,0.12],[-6.57,0.08],[-6.56,0.13],[-6.55,0.1],[-6.54,0.15],[-6.53,0.12],[-6.52,0.09],[-6.51,0.13],[-6.48,0.11],[-6.46,0.14],[-6.44,0.12],[-6.4,0.13],[-6.35,0.11],[-6.3,0.14],[-6.26,0.12],[-6.2,0.13],[-6.16,0.11]];

// ---------- linear fits (end points) and CI half-widths ----------
const aHN_fitX = [-6.906, -4.715];
const aHN_fits = [[0.295, 0.262], [0.220, 0.2065], [0.1775, 0.171]];
const aHN_bandX = [-6.906, -6.4, -6.0, -5.4, -4.715];
const aHN_half = [[0.013, 0.007, 0.006, 0.009, 0.018], [0.012, 0.007, 0.006, 0.009, 0.018], [0.013, 0.007, 0.006, 0.009, 0.02]];

const bHN_fitX = [-6.909, -5.199];
const bHN_fits = [[0.278, 0.290], [0.211, 0.227], [0.166, 0.220]];
const bHN_bandX = [-6.909, -6.7, -6.5, -6.0, -5.199];
const bHN_half = [[0.008, 0.006, 0.006, 0.012, 0.025], [0.008, 0.006, 0.006, 0.012, 0.023], [0.008, 0.006, 0.006, 0.011, 0.021]];

const aLN_fitX = [-6.911, -4.855];
const aLN_fits = [[0.198, 0.247], [0.136, 0.190], [0.122, 0.121]];
const aLN_bandX = [-6.911, -6.5, -6.1, -5.5, -4.855];
const aLN_half = [[0.011, 0.006, 0.005, 0.008, 0.017], [0.011, 0.006, 0.005, 0.008, 0.017], [0.011, 0.006, 0.005, 0.008, 0.017]];

const bLN_fitX = [-6.912, -6.079];
const bLN_fits = [[0.219, 0.195], [0.160, 0.140], [0.121, 0.128]];
const bLN_bandX = [-6.912, -6.75, -6.6, -6.35, -6.079];
const bLN_half = [[0.007, 0.006, 0.007, 0.011, 0.018], [0.007, 0.006, 0.007, 0.011, 0.017], [0.007, 0.006, 0.007, 0.011, 0.016]];

const FONT = '"Liberation Sans", Arial, Helvetica, sans-serif';

function withColumn(colX: number, col: number[], pts: number[][]) {
  return col.map((y) => [colX, y]).concat(pts);
}

const panels = [
  { grid: { left: 154, top: 40, width: 429, height: 202 }, xMin: -7.019, xMax: -4.543, yMin: -0.0576, yMax: 0.488, xTicks: ticksA, dec: 1,
    points: [aHN_11, aHN_21, aHN_35], fitX: aHN_fitX, fits: aHN_fits, bandX: aHN_bandX, half: aHN_half },
  { grid: { left: 662, top: 40, width: 427, height: 202 }, xMin: -6.99, xMax: -5.117, yMin: -0.0576, yMax: 0.488, xTicks: ticksBHN, dec: 1,
    points: [withColumn(bHN_colX, bHN_11_col, bHN_11), withColumn(bHN_colX, bHN_21_col, bHN_21), withColumn(bHN_colX, bHN_35_col, bHN_35)],
    fitX: bHN_fitX, fits: bHN_fits, bandX: bHN_bandX, half: bHN_half },
  { grid: { left: 154, top: 345, width: 429, height: 201 }, xMin: -7.018, xMax: -4.691, yMin: -0.0197, yMax: 0.4937, xTicks: ticksA, dec: 1,
    points: [aLN_11, aLN_21, aLN_35], fitX: aLN_fitX, fits: aLN_fits, bandX: aLN_bandX, half: aLN_half },
  { grid: { left: 662, top: 345, width: 427, height: 201 }, xMin: -6.951, xMax: -6.039, yMin: -0.0197, yMax: 0.4937, xTicks: ticksBLN, dec: 2,
    points: [withColumn(bLN_colX, bLN_11_col, bLN_11), withColumn(bLN_colX, bLN_21_col, bLN_21), withColumn(bLN_colX, bLN_35_col, bLN_35)],
    fitX: bLN_fitX, fits: bLN_fits, bandX: bLN_bandX, half: bLN_half },
];

const legends = [
  { box: [535, 36.7, 18, 47.3], lx: [537.7, 549.3], ly: [44, 60.7, 76.7], labelX: 560, sigX: 527, sig: sigAHN },
  { box: [1055, 36.7, 19, 48.3], lx: [1057, 1071], ly: [44.3, 61, 77.3], labelX: 1080, sigX: 1045, sig: sigBHN },
  { box: [539, 350, 16, 48.3], lx: [541.7, 553.3], ly: [357.7, 373.3, 390], labelX: 562, sigX: 529, sig: sigALN },
  { box: [1053.3, 356.7, 16, 46.6], lx: [1055.7, 1067], ly: [363.3, 380, 396], labelX: 1078, sigX: 1045, sig: sigBLN },
];

function fmtX(dec: number) {
  return (v: number) => (v < 0 ? "\u2212" : "") + Math.abs(v).toFixed(dec);
}

function buildOption() {
  const grid: any[] = [];
  const xAxis: any[] = [];
  const yAxis: any[] = [];
  const series: any[] = [];
  panels.forEach((p, i) => {
    grid.push({ ...p.grid, containLabel: false });
    xAxis.push({
      type: "value", gridIndex: i, min: p.xMin, max: p.xMax,
      splitLine: { show: false },
      axisLine: { show: true, lineStyle: { color: "#000", width: 2 } },
      axisTick: { show: true, length: 4, lineStyle: { color: "#333", width: 1.5 }, customValues: p.xTicks },
      axisLabel: { customValues: p.xTicks, formatter: fmtX(p.dec), color: "#4D4D4D", fontSize: 22, fontWeight: "bold", fontFamily: FONT, margin: 4 },
    });
    yAxis.push({
      type: "value", gridIndex: i, min: p.yMin, max: p.yMax,
      splitLine: { show: false },
      axisLine: { show: true, lineStyle: { color: "#000", width: 2 } },
      axisTick: { show: true, length: 4, lineStyle: { color: "#333", width: 1.5 }, customValues: ticksY },
      axisLabel: { customValues: ticksY, formatter: (v: number) => v.toFixed(1), color: "#4D4D4D", fontSize: 22, fontWeight: "bold", fontFamily: FONT, margin: 6 },
    });
    p.points.forEach((pts, g) => {
      series.push({
        type: "scatter", name: groups[g], xAxisIndex: i, yAxisIndex: i, data: pts,
        symbol: "circle", symbolSize: 7.5, itemStyle: { color: groupColors[g], opacity: 1 }, z: 2, silent: true,
      });
    });
    p.fits.forEach((fy, g) => {
      const lineAt = (x: number) => fy[0] + ((fy[1] - fy[0]) * (x - p.fitX[0])) / (p.fitX[1] - p.fitX[0]);
      const half = p.half[g];
      series.push({
        type: "custom", xAxisIndex: i, yAxisIndex: i, z: 3, silent: true,
        data: [[p.bandX[0], fy[0]]],
        renderItem: (_params: any, api: any) => {
          const upper = p.bandX.map((x, k) => api.coord([x, lineAt(x) + half[k]]));
          const lower = p.bandX.map((x, k) => api.coord([x, lineAt(x) - half[k]])).reverse();
          return { type: "polygon", shape: { points: upper.concat(lower) }, style: { fill: "rgba(153,153,153,0.4)" } };
        },
      });
      series.push({
        type: "line", xAxisIndex: i, yAxisIndex: i, z: 4, silent: true,
        data: [[p.fitX[0], fy[0]], [p.fitX[1], fy[1]]],
        showSymbol: false, symbol: "none", lineStyle: { color: groupColors[g], width: 3 },
      });
    });
  });

  const graphic: any[] = [];
  const txt = (x: number, y: number, text: string, size: number, extra: any = {}, align = "left") => ({
    type: "text", x, y, silent: true,
    style: { text, fontSize: size, fontFamily: FONT, fill: "#000", align, verticalAlign: "middle", ...extra },
  });
  graphic.push(txt(93, 24.5, "(a)", 23, { fontWeight: "bold" }));
  graphic.push(txt(155, 24, "Massilia putida", 23.5, { fontStyle: "italic" }));
  graphic.push(txt(598, 24.5, "(b)", 23, { fontWeight: "bold" }));
  graphic.push(txt(661, 24, "Pseudomonas parafulva", 23.5, { fontStyle: "italic" }));
  graphic.push(txt(62, 145, "HN", 27, { fontWeight: "bold" }, "center"));
  graphic.push(txt(69, 450, "LN", 27, { fontWeight: "bold" }, "center"));
  graphic.push({ ...txt(0, 0, "VARI", 25, { fontWeight: "bold" }, "center"), x: 23, y: 289, rotation: Math.PI / 2 });
  graphic.push(txt(621, 605, "Log (relative abundance)", 25, { fontWeight: "bold" }, "center"));

  legends.forEach((L) => {
    graphic.push({ type: "rect", silent: true, shape: { x: L.box[0], y: L.box[1], width: L.box[2], height: L.box[3] }, style: { fill: "#D6D6D6" } });
    L.ly.forEach((y, g) => {
      graphic.push({ type: "line", silent: true, shape: { x1: L.lx[0], y1: y, x2: L.lx[1], y2: y }, style: { stroke: groupColors[g], lineWidth: 3.3 } });
      graphic.push(txt(L.labelX, y, groups[g], 15));
      graphic.push(txt(L.sigX, y, L.sig[g], 15, {}, "right"));
    });
  });

  return { animation: false, backgroundColor: "#fff", grid, xAxis, yAxis, series, graphic };
}

export default function App() {
  const ref = useRef<HTMLDivElement>(null);
  useEffect(() => {
    if (!ref.current) return;
    const chart = echarts.init(ref.current, null, { renderer: "svg" });
    chart.setOption(buildOption() as any);
    return () => chart.dispose();
  }, []);
  return <div ref={ref} style={{ position: "absolute", left: 0, top: 0, width: 1101, height: 621, background: "#fff" }} />;
}
